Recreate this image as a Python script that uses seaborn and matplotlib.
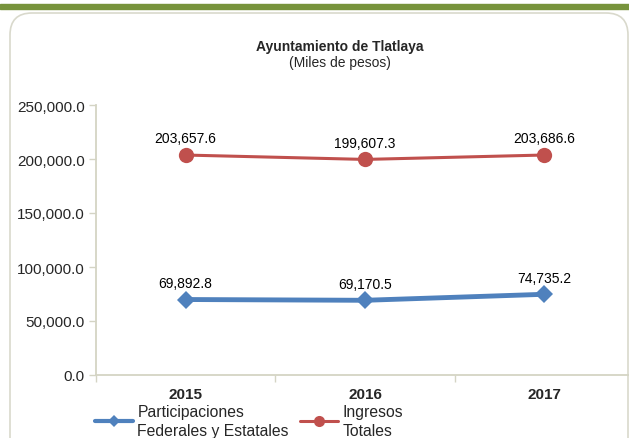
"""Ayuntamiento de Tlatlaya: participaciones vs ingresos totales, 2015-2017."""

import matplotlib
matplotlib.use("Agg")
import matplotlib.pyplot as plt
import pandas as pd
import seaborn as sns
from matplotlib.lines import Line2D
from matplotlib.patches import FancyBboxPatch, Rectangle
from matplotlib.ticker import FuncFormatter, FixedLocator

years = ["2015", "2016", "2017"]
participaciones = [69892.8, 69170.5, 74735.2]
ingresos = [203657.6, 199607.3, 203686.6]
series_names = ["Participaciones\nFederales y Estatales", "Ingresos\nTotales"]

sns.set_theme(style="white")
plt.rcParams["font.family"] = ["Liberation Sans", "DejaVu Sans"]

df = pd.DataFrame({
    "year": years * 2,
    "value": participaciones + ingresos,
    "serie": [series_names[0]] * 3 + [series_names[1]] * 3,
})

BLUE = "#4F81BD"
RED = "#C0504D"
AXIS = "#D4D4C4"

fig = plt.figure(figsize=(6.29, 4.39), dpi=100)

# decorative frame + top bar
fig.patches.append(Rectangle((0, 1 - 9.5 / 439), 1, 5 / 439, transform=fig.transFigure,
                             color="#77933C", zorder=-2))
fig.patches.append(FancyBboxPatch((0.10, -0.5), 6.18, 4.75,
                                  boxstyle="round,pad=0,rounding_size=0.22",
                                  transform=fig.dpi_scale_trans, facecolor="white",
                                  edgecolor="#D9D9CC", linewidth=1.2, zorder=-2))

ax = fig.add_axes([96 / 629, 63 / 439, 538 / 629, 270 / 439])
ax.patch.set_alpha(0)
ax.set_zorder(1)

sns.lineplot(data=df[df.serie == series_names[0]], x="year", y="value", ax=ax,
             color=BLUE, linewidth=3.5, marker="D", markersize=9,
             markeredgewidth=0, legend=False)
sns.lineplot(data=df[df.serie == series_names[1]], x="year", y="value", ax=ax,
             color=RED, linewidth=2.2, marker="o", markersize=11,
             markeredgewidth=0, legend=False)

for vals in (participaciones, ingresos):
    for i, v in enumerate(vals):
        ax.annotate(f"{v:,.1f}", (i, v), xytext=(0, 7), textcoords="offset points",
                    ha="center", va="bottom", fontsize=10, color="#000000")

ax.set_xlim(-0.5, 2.5)
ax.set_ylim(0, 250000)
ax.yaxis.set_major_locator(FixedLocator([0, 50000, 100000, 150000, 200000, 250000]))
ax.yaxis.set_major_formatter(FuncFormatter(lambda v, _: f"{v:,.1f}"))
ax.xaxis.set_minor_locator(FixedLocator([-0.5, 0.5, 1.5, 2.5]))

for s in ("top", "right"):
    ax.spines[s].set_visible(False)
for s in ("left", "bottom"):
    ax.spines[s].set_color(AXIS)
    ax.spines[s].set_linewidth(1.3)

ax.tick_params(axis="y", left=True, length=5, width=1, color=AXIS, labelsize=11, pad=3)
ax.tick_params(axis="x", which="major", bottom=False, labelsize=11, pad=2.5)
ax.tick_params(axis="x", which="minor", bottom=True, length=5, width=1, color=AXIS)
for t in ax.get_xticklabels():
    t.set_fontweight("bold")
ax.set_xlabel("")
ax.set_ylabel("")

fig.text(0.54, 1 - 47 / 439, "Ayuntamiento de Tlatlaya", ha="center", va="center",
         fontsize=10, fontweight="bold")
fig.text(0.54, 1 - 63 / 439, "(Miles de pesos)", ha="center", va="center", fontsize=10)

handles = [
    Line2D([], [], color=BLUE, linewidth=3, marker="D", markersize=6, markeredgewidth=0),
    Line2D([], [], color=RED, linewidth=2.2, marker="o", markersize=8, markeredgewidth=0),
]
leg = fig.legend(handles, series_names, loc="upper left",
                 bbox_to_anchor=(95 / 629, 1 - 405 / 439),
                 ncol=2, frameon=False, fontsize=11.3, handlelength=2.4, handletextpad=0.3,
                 columnspacing=0.7, borderpad=0, borderaxespad=0, labelspacing=0)
for t in leg.get_texts():
    t.set_linespacing(1.3)

fig.savefig("out.png", dpi=100)
